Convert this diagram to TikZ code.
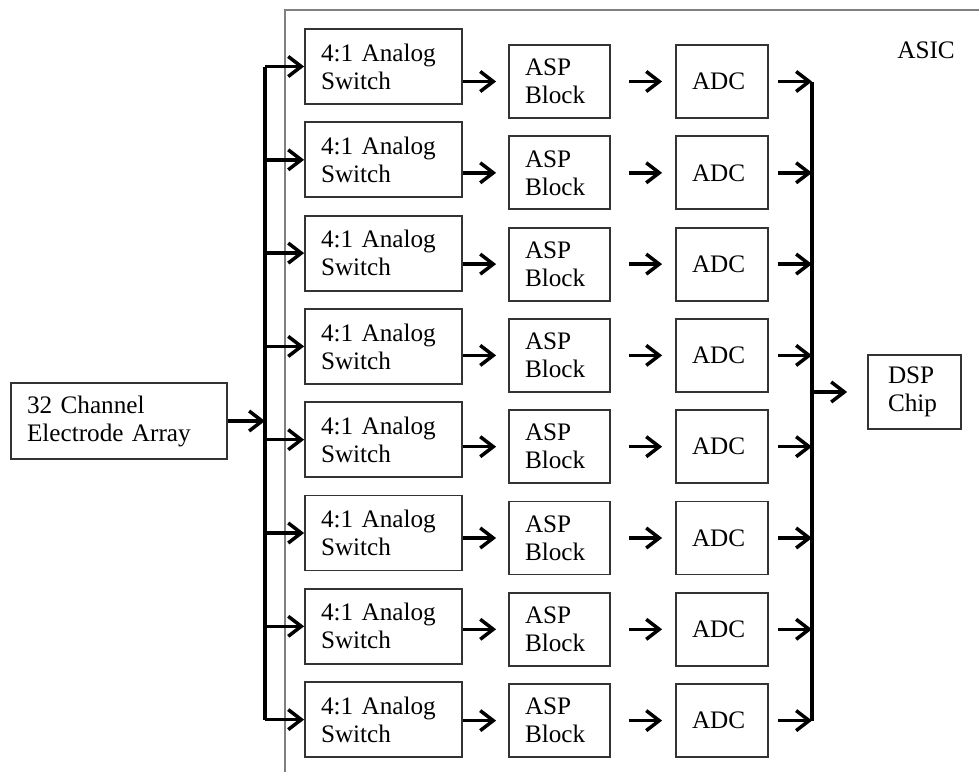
\documentclass[tikz,border=0pt]{standalone}
\usepackage{fontspec}
\setmainfont{Liberation Serif}
\usepackage{tikz}
\usetikzlibrary{arrows.meta}

\begin{document}
\begin{tikzpicture}[x=0.5pt,y=-0.5pt,
	box/.style={draw=black!80,line width=0.9pt,inner xsep=8pt,inner ysep=0pt,align=left,
		font=\fontsize{12.6}{14}\selectfont},
	switchbox/.style={box,text width=62.5pt,minimum height=37.5pt},
	aspbox/.style={box,text width=34.5pt,minimum height=36.5pt},
	adcbox/.style={box,text width=30pt,minimum height=36.5pt},
	arr/.style={line width=1.75pt,-{Straight Barb[length=6.5pt,width=10pt]}},
	bus/.style={line width=2pt},
	asic/.style={draw=black!50,line width=1.1pt}]
				\useasboundingbox (0,0) rectangle (979,771);
				
				\draw [asic] (285,800) |- (1000,10);
				\node (asiclabel) at (926,50) {\fontsize{12.6}{14}\selectfont ASIC};
				
				\node (ea) [box,text width=92pt,minimum height=38pt] at (119,421) {32 Channel\\Electrode Array};
				\node (dsp) [box,inner xsep=10pt,text width=26.5pt,minimum height=37pt] at (914.5,392) {DSP\\Chip};
				
				\node (sw1) [switchbox] at (383.5,66.5) {4:1 Analog\\Switch};
				\node (sw2) [switchbox] at (383.5,159.8) {4:1 Analog\\Switch};
				\node (sw3) [switchbox] at (383.5,253.1) {4:1 Analog\\Switch};
				\node (sw4) [switchbox] at (383.5,346.4) {4:1 Analog\\Switch};
				\node (sw5) [switchbox] at (383.5,439.7) {4:1 Analog\\Switch};
				\node (sw6) [switchbox] at (383.5,533) {4:1 Analog\\Switch};
				\node (sw7) [switchbox] at (383.5,626.3) {4:1 Analog\\Switch};
				\node (sw8) [switchbox] at (383.5,719.6) {4:1 Analog\\Switch};
				
				\node (asp1) [aspbox] at (559.5,81.5) {ASP\\Block};
				\node (asp2) [aspbox] at (559.5,172.8) {ASP\\Block};
				\node (asp3) [aspbox] at (559.5,264.1) {ASP\\Block};
				\node (asp4) [aspbox] at (559.5,355.4) {ASP\\Block};
				\node (asp5) [aspbox] at (559.5,446.7) {ASP\\Block};
				\node (asp6) [aspbox] at (559.5,538) {ASP\\Block};
				\node (asp7) [aspbox] at (559.5,629.3) {ASP\\Block};
				\node (asp8) [aspbox] at (559.5,720.6) {ASP\\Block};
				
				\node (adc1) [adcbox] at (722,81.5) {ADC};
				\node (adc2) [adcbox] at (722,172.8) {ADC};
				\node (adc3) [adcbox] at (722,264.1) {ADC};
				\node (adc4) [adcbox] at (722,355.4) {ADC};
				\node (adc5) [adcbox] at (722,446.7) {ADC};
				\node (adc6) [adcbox] at (722,538) {ADC};
				\node (adc7) [adcbox] at (722,629.3) {ADC};
				\node (adc8) [adcbox] at (722,720.6) {ADC};
				
				\coordinate (lbus) at (265,0);
				\coordinate (rbus) at (812,0);
				
				\draw [bus] (lbus |- sw1) -- (lbus |- sw8);
				\draw [arr] (ea.east) -- (lbus |- ea);
				\draw [arr] (lbus |- sw1) -- (sw1.west);
				\draw [arr] (lbus |- sw2) -- (sw2.west);
				\draw [arr] (lbus |- sw3) -- (sw3.west);
				\draw [arr] (lbus |- sw4) -- (sw4.west);
				\draw [arr] (lbus |- sw5) -- (sw5.west);
				\draw [arr] (lbus |- sw6) -- (sw6.west);
				\draw [arr] (lbus |- sw7) -- (sw7.west);
				\draw [arr] (lbus |- sw8) -- (sw8.west);
				
				\draw [arr,shorten >=6pt] (sw1.east |- asp1) -- (asp1.west);
				\draw [arr,shorten >=6pt] (sw2.east |- asp2) -- (asp2.west);
				\draw [arr,shorten >=6pt] (sw3.east |- asp3) -- (asp3.west);
				\draw [arr,shorten >=6pt] (sw4.east |- asp4) -- (asp4.west);
				\draw [arr,shorten >=6pt] (sw5.east |- asp5) -- (asp5.west);
				\draw [arr,shorten >=6pt] (sw6.east |- asp6) -- (asp6.west);
				\draw [arr,shorten >=6pt] (sw7.east |- asp7) -- (asp7.west);
				\draw [arr,shorten >=6pt] (sw8.east |- asp8) -- (asp8.west);
				
				\draw [arr,shorten <=9pt,shorten >=6.5pt] (asp1.east) -- (adc1.west);
				\draw [arr,shorten <=9pt,shorten >=6.5pt] (asp2.east) -- (adc2.west);
				\draw [arr,shorten <=9pt,shorten >=6.5pt] (asp3.east) -- (adc3.west);
				\draw [arr,shorten <=9pt,shorten >=6.5pt] (asp4.east) -- (adc4.west);
				\draw [arr,shorten <=9pt,shorten >=6.5pt] (asp5.east) -- (adc5.west);
				\draw [arr,shorten <=9pt,shorten >=6.5pt] (asp6.east) -- (adc6.west);
				\draw [arr,shorten <=9pt,shorten >=6.5pt] (asp7.east) -- (adc7.west);
				\draw [arr,shorten <=9pt,shorten >=6.5pt] (asp8.east) -- (adc8.west);
				
				\draw [bus] (rbus |- adc1) -- (rbus |- adc8);
				\draw [arr,shorten <=4.5pt] (adc1.east) -- (rbus |- adc1);
				\draw [arr,shorten <=4.5pt] (adc2.east) -- (rbus |- adc2);
				\draw [arr,shorten <=4.5pt] (adc3.east) -- (rbus |- adc3);
				\draw [arr,shorten <=4.5pt] (adc4.east) -- (rbus |- adc4);
				\draw [arr,shorten <=4.5pt] (adc5.east) -- (rbus |- adc5);
				\draw [arr,shorten <=4.5pt] (adc6.east) -- (rbus |- adc6);
				\draw [arr,shorten <=4.5pt] (adc7.east) -- (rbus |- adc7);
				\draw [arr,shorten <=4.5pt] (adc8.east) -- (rbus |- adc8);
				\draw [arr,shorten >=10pt] (rbus |- dsp) -- (dsp.west);
\end{tikzpicture}
\end{document}
